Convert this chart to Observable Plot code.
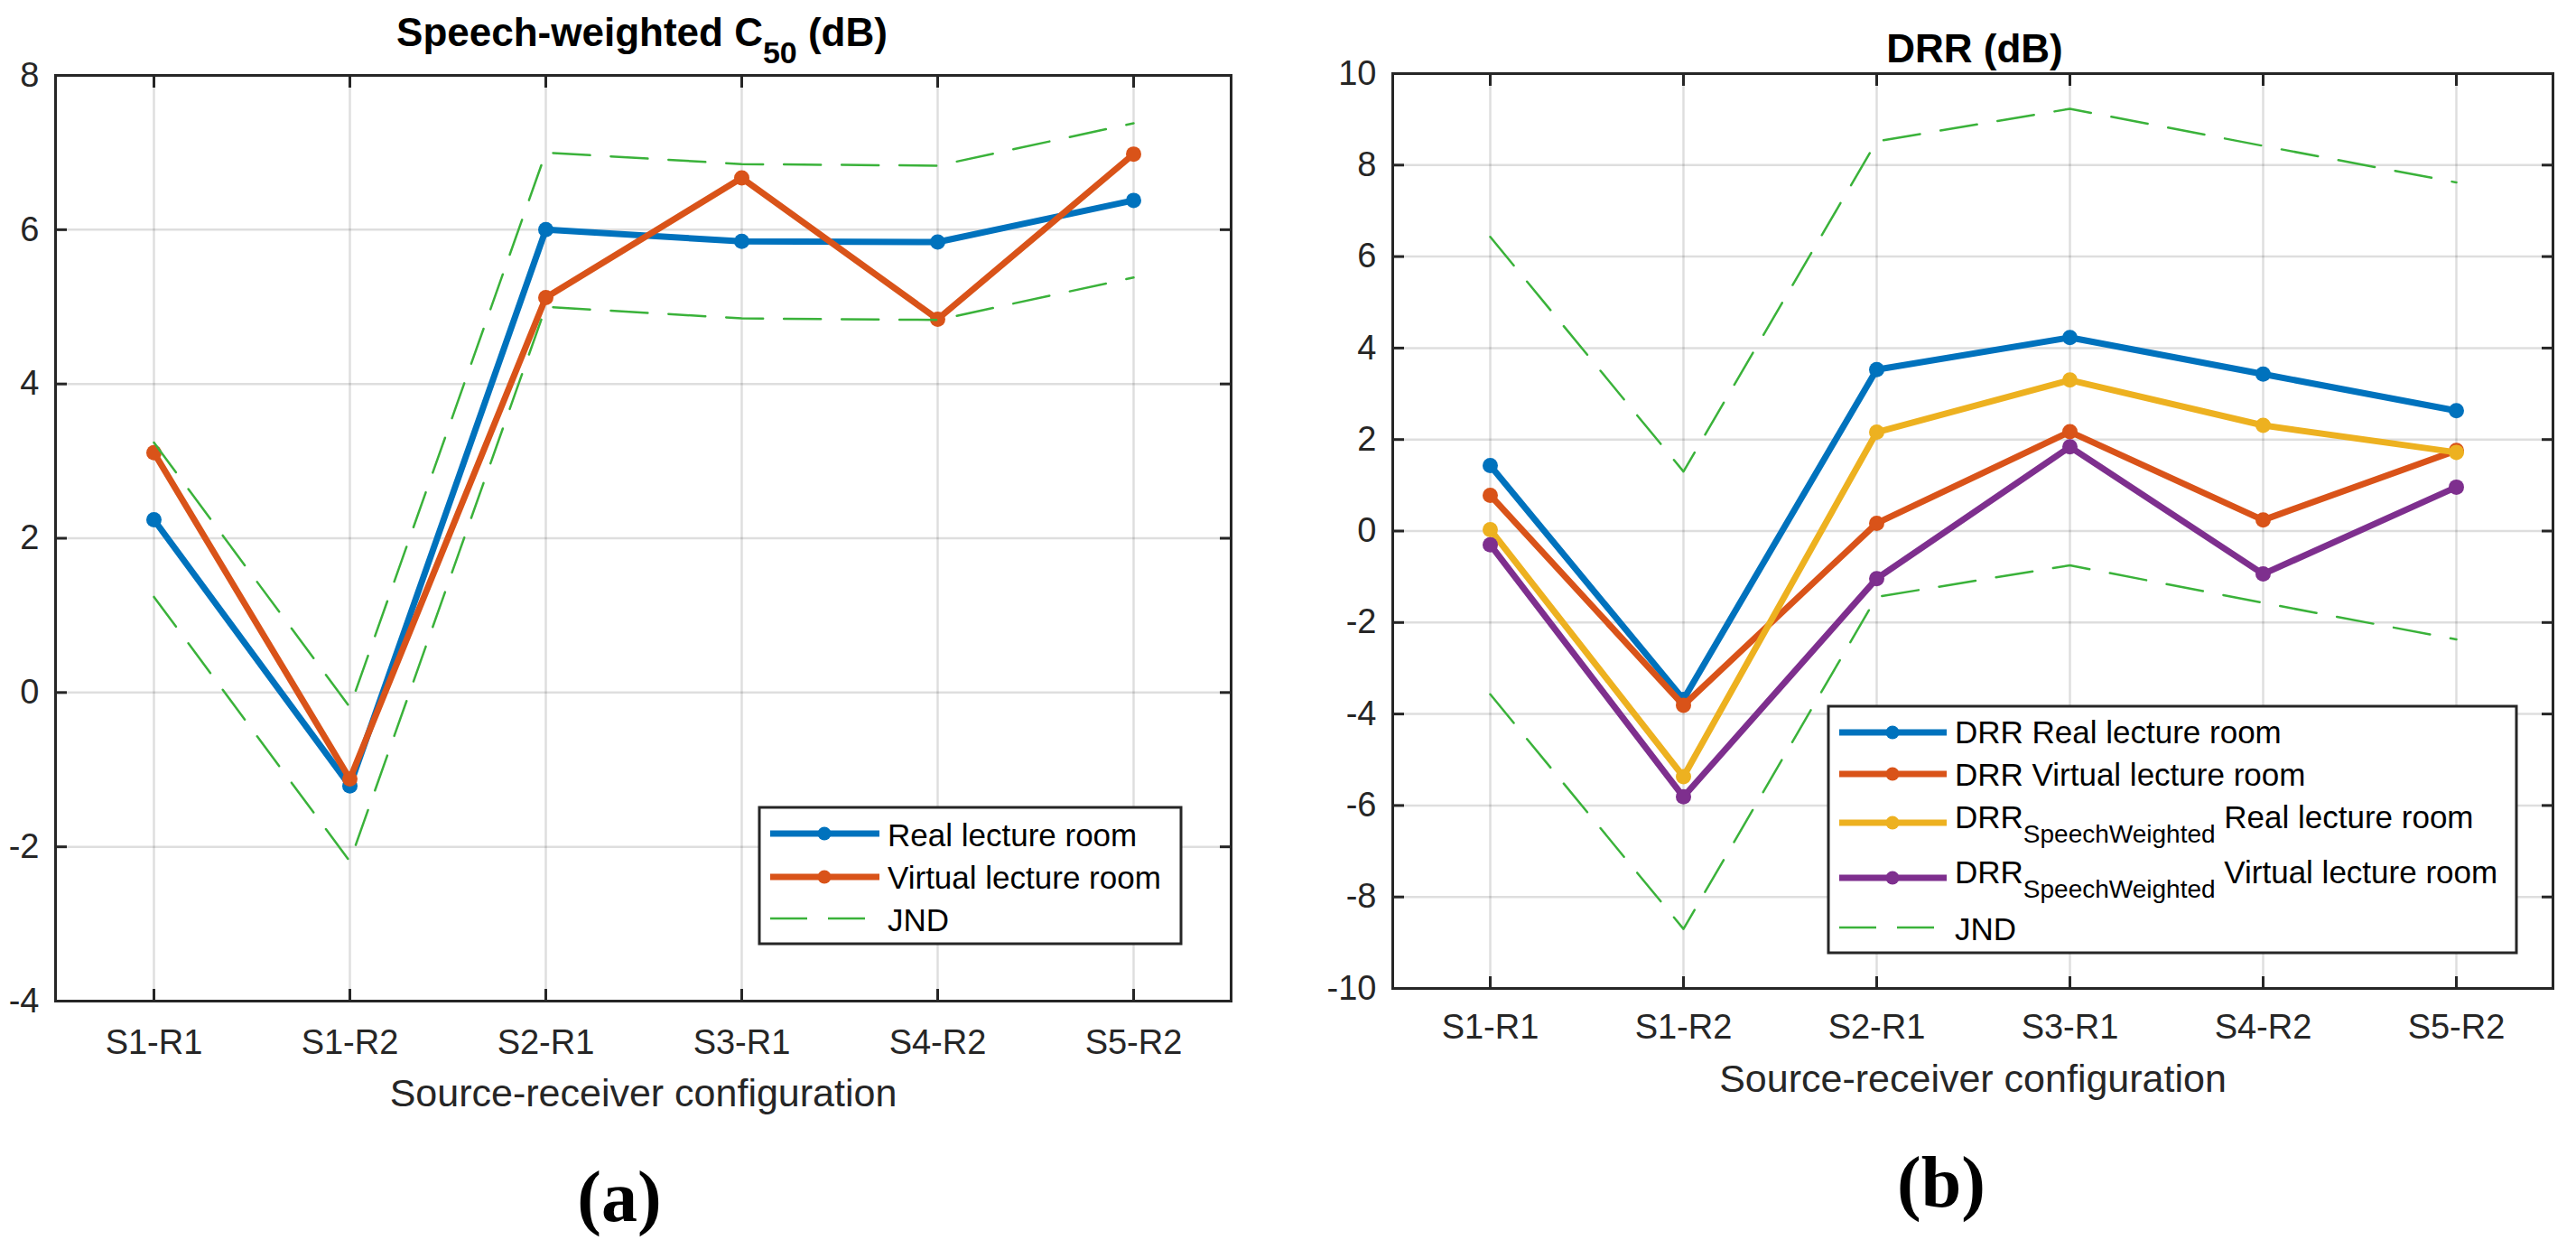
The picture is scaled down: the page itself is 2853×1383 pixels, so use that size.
<!DOCTYPE html>
<html>
<head>
<meta charset="utf-8">
<script src="https://cdn.jsdelivr.net/npm/d3@7"></script>
<script src="https://cdn.jsdelivr.net/npm/@observablehq/plot@0.6"></script>
<style>
  html, body { margin: 0; padding: 0; background: #fff; }
  #page { position: relative; width: 2853px; height: 1383px; overflow: hidden;
          font-family: "Liberation Sans", Arial, Helvetica, sans-serif; }
  .panel { position: absolute; top: 0; }
  #overlay { position: absolute; left: 0; top: 0; z-index: 2; }
  #overlay text { white-space: pre; }
</style>
</head>
<body>
<div id="page">
  <div id="left" class="panel" style="left:0px"></div>
  <div id="right" class="panel" style="left:1430px"></div>
</div>
<script>
// ---------------- data ----------------
const configs = ["S1-R1", "S1-R2", "S2-R1", "S3-R1", "S4-R2", "S5-R2"];

// (a) Speech-weighted C50 (dB)
const c50Real     = [2.24, -1.21, 6.00, 5.85, 5.84, 6.38];
const c50Virtual  = [3.11, -1.12, 5.12, 6.67, 4.84, 6.98];
const c50JndUpper = [3.24, -0.19, 7.00, 6.85, 6.83, 7.38];
const c50JndLower = [1.24, -2.19, 5.00, 4.85, 4.83, 5.38];
const c50Ticks    = [-4, -2, 0, 2, 4, 6, 8];

// (b) DRR (dB)
const drrReal       = [1.43, -3.68, 3.53, 4.23, 3.43, 2.63];
const drrVirtual    = [0.78, -3.81, 0.17, 2.17, 0.24, 1.76];
const drrSwReal     = [0.03, -5.37, 2.16, 3.30, 2.31, 1.72];
const drrSwVirtual  = [-0.30, -5.81, -1.04, 1.84, -0.94, 0.96];
const drrJndUpper   = [6.43, 1.30, 8.52, 9.23, 8.42, 7.62];
const drrJndLower   = [-3.57, -8.70, -1.44, -0.75, -1.57, -2.37];
const drrTicks      = [-10, -8, -6, -4, -2, 0, 2, 4, 6, 8, 10];

const xAxisLabel = "Source-receiver configuration";
const c50Names = ["Real lecture room", "Virtual lecture room", "JND"];
const drrNames = [
  [{t: "DRR Real lecture room"}],
  [{t: "DRR Virtual lecture room"}],
  [{t: "DRR"}, {t: "SpeechWeighted", sub: true}, {t: " Real lecture room"}],
  [{t: "DRR"}, {t: "SpeechWeighted", sub: true}, {t: " Virtual lecture room"}],
  [{t: "JND"}]
];

// ---------------- styles ----------------
const BLUE = "#0072BD", ORANGE = "#D95319", YELLOW = "#EDB120", PURPLE = "#7E2F8E", GREEN = "#3AB23A";
const AXIS = "#262626";
const DASH = "41,23";

function rows(values) { return configs.map((c, i) => ({config: c, value: values[i]})); }

function makePanel(o) {
  const grid = {stroke: "#000", strokeOpacity: 0.13, strokeWidth: 2.5};
  const marks = [
    Plot.gridX(configs, grid),
    Plot.gridY(o.yTicks, grid)
  ];
  for (const s of o.series) {
    marks.push(Plot.line(rows(s.values), {x: "config", y: "value", stroke: s.color, strokeWidth: 7,
      strokeLinejoin: "round", strokeLinecap: "round"}));
    marks.push(Plot.dot(rows(s.values), {x: "config", y: "value", r: 8.5, fill: s.color, stroke: null}));
  }
  for (const b of o.jnd) {
    marks.push(Plot.line(rows(b), {x: "config", y: "value", stroke: GREEN, strokeWidth: 2.5, strokeDasharray: DASH}));
  }
  marks.push(
    Plot.frame({stroke: AXIS, strokeWidth: 3}),
    Plot.axisX({anchor: "bottom", tickSize: -13, tickPadding: o.tickPadX, fontSize: 38,
      stroke: AXIS, strokeWidth: 3, label: null}),
    Plot.axisX({anchor: "top", tickSize: -13, tickFormat: () => "", stroke: AXIS, strokeWidth: 3, label: null}),
    Plot.axisY(o.yTicks, {anchor: "left", tickSize: -13, tickPadding: 31, fontSize: 38,
      tickFormat: d => String(d), stroke: AXIS, strokeWidth: 3, label: null}),
    Plot.axisY(o.yTicks, {anchor: "right", tickSize: -13, tickFormat: () => "", stroke: AXIS, strokeWidth: 3, label: null}),
    Plot.axisX({anchor: "bottom", tickSize: 0, tickFormat: () => "", label: xAxisLabel,
      labelAnchor: "center", labelOffset: o.labelOffset, fontSize: 43})
  );
  return Plot.plot({
    width: o.width, height: o.height,
    marginLeft: o.ml, marginRight: o.mr, marginTop: o.mt, marginBottom: o.mb,
    x: {type: "point", domain: configs, padding: 0.5, label: null},
    y: {domain: o.yDomain, label: null},
    style: {fontFamily: "'Liberation Sans', Arial, Helvetica, sans-serif", color: AXIS, background: "transparent", overflow: "visible"},
    marks
  });
}

document.getElementById("left").append(makePanel({
  width: 1420, height: 1300, ml: 61, mr: 57, mt: 83, mb: 192,
  yDomain: [-4, 8], yTicks: c50Ticks, tickPadX: 45, labelOffset: 116,
  series: [{values: c50Real, color: BLUE}, {values: c50Virtual, color: ORANGE}],
  jnd: [c50JndUpper, c50JndLower]
}));

document.getElementById("right").append(makePanel({
  width: 1423, height: 1300, ml: 112, mr: 26, mt: 81, mb: 206,
  yDomain: [-10, 10], yTicks: drrTicks, tickPadX: 42, labelOffset: 114,
  series: [{values: drrReal, color: BLUE}, {values: drrVirtual, color: ORANGE},
           {values: drrSwReal, color: YELLOW}, {values: drrSwVirtual, color: PURPLE}],
  jnd: [drrJndUpper, drrJndLower]
}));

// ---------------- overlay: titles, legends, captions ----------------
const svg = d3.select("#page").append("svg").attr("id", "overlay")
  .attr("width", 2853).attr("height", 1383)
  .style("font-family", "'Liberation Sans', Arial, Helvetica, sans-serif");

// titles
const t1 = svg.append("text").attr("x", 711).attr("y", 51).attr("text-anchor", "middle")
  .attr("font-size", 44).attr("font-weight", "bold").attr("fill", "#000");
t1.append("tspan").text("Speech-weighted C");
t1.append("tspan").attr("font-size", 34).attr("dy", 19).text("50");
t1.append("tspan").attr("dy", -19).text(" (dB)");

svg.append("text").attr("x", 2187).attr("y", 69).attr("text-anchor", "middle")
  .attr("font-size", 44).attr("font-weight", "bold").attr("fill", "#000").text("DRR (dB)");

// legends
function legend(box, items) {
  svg.append("rect").attr("x", box.x).attr("y", box.y).attr("width", box.w).attr("height", box.h)
    .attr("fill", "#fff").attr("stroke", AXIS).attr("stroke-width", 3);
  for (const it of items) {
    const line = svg.append("line").attr("x1", box.lx1).attr("x2", box.lx2)
      .attr("y1", it.ly).attr("y2", it.ly).attr("stroke", it.color);
    if (it.dashed) line.attr("stroke-width", 2.5).attr("stroke-dasharray", DASH);
    else {
      line.attr("stroke-width", 7);
      svg.append("circle").attr("cx", box.mx).attr("cy", it.ly).attr("r", 7.5).attr("fill", it.color);
    }
    const tx = svg.append("text").attr("x", box.tx).attr("y", it.base).attr("font-size", 35).attr("fill", "#000");
    let down = false;
    for (const p of it.parts) {
      const ts = tx.append("tspan").text(p.t);
      if (p.sub) { ts.attr("font-size", 28).attr("dy", 16); down = true; }
      else if (down) { ts.attr("dy", -16); down = false; }
    }
  }
}

legend({x: 841, y: 894, w: 467, h: 151, lx1: 853, lx2: 974, mx: 913, tx: 983}, [
  {ly: 923, base: 937, color: BLUE, parts: [{t: c50Names[0]}]},
  {ly: 971, base: 984, color: ORANGE, parts: [{t: c50Names[1]}]},
  {ly: 1017, base: 1031, color: GREEN, dashed: true, parts: [{t: c50Names[2]}]}
]);

legend({x: 2025, y: 782, w: 762, h: 273, lx1: 2037, lx2: 2156, mx: 2096, tx: 2165}, [
  {ly: 811, base: 823, color: BLUE, parts: drrNames[0]},
  {ly: 857, base: 870, color: ORANGE, parts: drrNames[1]},
  {ly: 911, base: 917, color: YELLOW, parts: drrNames[2]},
  {ly: 972, base: 978, color: PURPLE, parts: drrNames[3]},
  {ly: 1027, base: 1041, color: GREEN, dashed: true, parts: drrNames[4]}
]);

// captions
svg.append("text").attr("x", 686).attr("y", 1352).attr("text-anchor", "middle")
  .attr("font-family", "'Liberation Serif', 'Times New Roman', serif").attr("font-weight", "bold")
  .attr("font-size", 80).attr("fill", "#000").text("(a)");
svg.append("text").attr("x", 2150).attr("y", 1336).attr("text-anchor", "middle")
  .attr("font-family", "'Liberation Serif', 'Times New Roman', serif").attr("font-weight", "bold")
  .attr("font-size", 80).attr("fill", "#000").text("(b)");
</script>
</body>
</html>
